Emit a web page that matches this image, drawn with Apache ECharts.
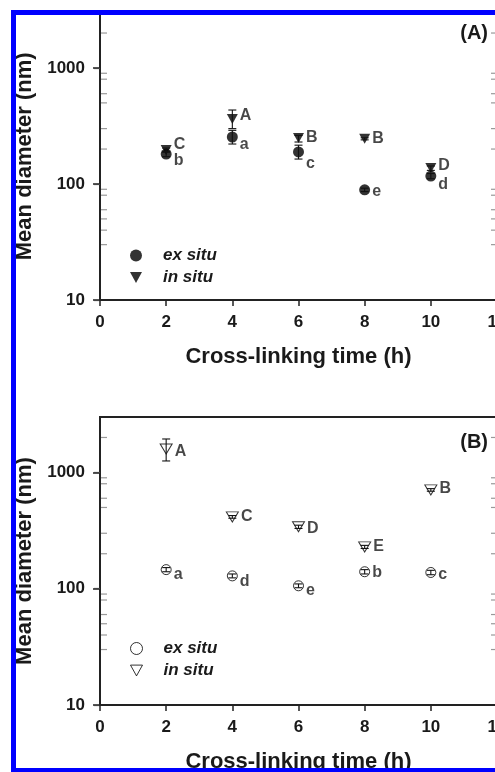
<!DOCTYPE html>
<html><head><meta charset="utf-8">
<script src="https://cdn.jsdelivr.net/npm/echarts@6/dist/echarts.min.js"></script>
<style>html,body{margin:0;padding:0;background:#fff}#c{width:495px;height:772px}</style>
</head><body><div id="c"></div>
<script>
// ---------- data ----------
const timeH = [2, 4, 6, 8, 10];
const xMin = 0, xMax = 12, xStep = 2;
const yMin = 10, yMax = 3000;
const yMajorTicks = [10, 100, 1000];
const yMinorTicks = [30, 40, 50, 60, 80, 90, 200, 300, 500, 600, 800, 900, 2000];
const seriesNames = ['ex situ', 'in situ'];
const panelTags = ['(A)', '(B)'];

// Panel A (filled symbols)
const exA      = [181, 254, 189, 89, 117];
const exALow   = [172, 221, 164, 86, 111];
const exAHigh  = [190, 290, 216, 92, 123];
const inA      = [196, 363, 249, 245, 137];
const inALow   = [188, 300, 230, 240, 131];
const inAHigh  = [204, 434, 262, 250, 143];
const exALetters = ['b', 'a', 'c', 'e', 'd'];
const inALetters = ['C', 'A', 'B', 'B', 'D'];

// Panel B (open symbols)
const exB      = [146, 129, 106, 140, 138];
const exBLow   = [140, 124, 102, 134, 132];
const exBHigh  = [152, 134, 110, 146, 144];
const inB      = [1591, 415, 341, 229, 708];
const inBLow   = [1256, 404, 330, 222, 690];
const inBHigh  = [1941, 426, 352, 236, 726];
const exBLetters = ['a', 'd', 'e', 'b', 'c'];
const inBLetters = ['A', 'C', 'D', 'E', 'B'];

// ---------- layout (label vertical offsets, px) ----------
const dyExA = [7, 8, 12, 2, 9], dyInA = [-5, -3, 0, 0, -3];
const dyExB = [5, 6, 5, 1, 2],  dyInB = [3, 0, 2, 0, -1];

const FONT = 'Liberation Sans, Arial, sans-serif';
const INK = '#1a1a1a';
const triPath = 'path://M0,0L10,0L5,9Z';

const chart = echarts.init(document.getElementById('c'), null, {renderer: 'canvas'});

const grids = [
  {left: 100, top: 12.6, width: 397, height: 287.4, outerBoundsMode: 'none'},
  {left: 100, top: 417, width: 397, height: 288, outerBoundsMode: 'none'}
];

function xAxes(gi) {
  return [{
    gridIndex: gi, type: 'value', min: xMin, max: xMax, interval: xStep,
    axisLine: {lineStyle: {color: '#222', width: 2}},
    axisTick: {length: 6, lineStyle: {color: '#222', width: 1.5}},
    axisLabel: {fontSize: 17, fontWeight: 'bold', color: INK, margin: 14, fontFamily: FONT, hideOverlap: false},
    splitLine: {show: false},
    name: 'Cross-linking time (h)', nameLocation: 'middle', nameGap: 46,
    nameTextStyle: {fontSize: 22, fontWeight: 'bold', color: INK, fontFamily: FONT}
  }, {
    gridIndex: gi, type: 'value', position: 'top', min: xMin, max: xMax, interval: xStep,
    axisLine: {lineStyle: {color: '#222', width: 2}},
    axisTick: {show: false}, axisLabel: {show: false}, splitLine: {show: false}
  }];
}
function yAxes(gi) {
  return [{
    gridIndex: gi, type: 'log', logBase: 10, min: yMin, max: yMax, position: 'left',
    axisLine: {show: true, lineStyle: {color: '#222', width: 2}},
    axisTick: {show: true, customValues: yMajorTicks, length: 7, lineStyle: {color: '#222', width: 1.5}},
    axisLabel: {customValues: yMajorTicks, formatter: v => String(Math.round(v)),
      fontSize: 17, fontWeight: 'bold', color: INK, margin: 15, fontFamily: FONT},
    splitLine: {show: false}, minorTick: {show: false},
    name: 'Mean diameter (nm)', nameLocation: 'middle', nameGap: 64,
    nameTextStyle: {fontSize: 22, fontWeight: 'bold', color: INK, fontFamily: FONT}
  }, {
    gridIndex: gi, type: 'log', logBase: 10, min: yMin, max: yMax, position: 'right',
    axisLine: {show: true, lineStyle: {color: '#222', width: 2}},
    axisTick: {show: true, inside: true, customValues: yMajorTicks, length: 6, lineStyle: {color: '#444', width: 1.2}},
    axisLabel: {show: false}, splitLine: {show: false}
  }];
}

function pointSeries(name, gi, vals, letters, dys, symbol, size, itemStyle) {
  return {
    type: 'scatter', name: name, xAxisIndex: gi * 2, yAxisIndex: gi * 2,
    symbol: symbol, symbolSize: size, itemStyle: itemStyle, z: 3,
    data: timeH.map((t, i) => ({value: [t, vals[i]], label: {offset: [0, dys[i]]}})),
    label: {show: true, position: 'right', distance: 2, formatter: p => letters[p.dataIndex],
      fontSize: 16, fontWeight: 'bold', color: INK, fontFamily: FONT},
    emphasis: {disabled: true}
  };
}
function errSeries(gi, lo, hi) {
  return {
    type: 'custom', xAxisIndex: gi * 2, yAxisIndex: gi * 2, z: 4, silent: true,
    data: timeH.map((t, i) => [t, lo[i], hi[i]]),
    encode: {x: 0, y: [1, 2]},
    renderItem: (params, api) => {
      const a = api.coord([api.value(0), api.value(1)]);
      const b = api.coord([api.value(0), api.value(2)]);
      const w = 4, st = {stroke: '#111', lineWidth: 1.1};
      return {type: 'group', children: [
        {type: 'line', shape: {x1: a[0], y1: a[1], x2: b[0], y2: b[1]}, style: st},
        {type: 'line', shape: {x1: a[0] - w, y1: a[1], x2: a[0] + w, y2: a[1]}, style: st},
        {type: 'line', shape: {x1: b[0] - w, y1: b[1], x2: b[0] + w, y2: b[1]}, style: st}
      ]};
    }
  };
}
function minorTickSeries(gi) {
  return {
    type: 'custom', xAxisIndex: gi * 2, yAxisIndex: gi * 2, z: 2, silent: true, clip: false,
    data: yMinorTicks.map(v => [xMin, v]),
    encode: {x: 0, y: 1},
    renderItem: (params, api) => {
      const l = api.coord([xMin, api.value(1)]);
      const r = api.coord([xMax, api.value(1)]);
      const st = {stroke: '#999', lineWidth: 1.2};
      return {type: 'group', children: [
        {type: 'line', shape: {x1: l[0] + 1, y1: l[1], x2: l[0] + 7, y2: l[1]}, style: st},
        {type: 'line', shape: {x1: r[0] - 6, y1: r[1], x2: r[0], y2: r[1]}, style: st}
      ]};
    }
  };
}

const filled = {color: '#000'};
const open = {color: '#fff', borderColor: '#000', borderWidth: 1};

function legendFor(gi, top, style) {
  return {
    left: 125, top: top, orient: 'vertical', itemWidth: 12, itemHeight: 12, itemGap: 5,
    selectedMode: false,
    data: [
      {name: seriesNames[0], icon: 'circle', itemStyle: style},
      {name: seriesNames[1], icon: triPath, itemStyle: style}
    ],
    textStyle: {fontSize: 17, fontWeight: 'bold', fontStyle: 'italic', color: INK, fontFamily: FONT,
      padding: [0, 0, 0, 16]}
  };
}

const option = {
  animation: false,
  backgroundColor: '#fff',
  grid: grids,
  xAxis: [...xAxes(0), ...xAxes(1)],
  yAxis: [...yAxes(0), ...yAxes(1)],
  legend: [legendFor(0, 242, filled), legendFor(1, 635, open)],
  series: [
    minorTickSeries(0), minorTickSeries(1),
    pointSeries(seriesNames[1], 0, inA, inALetters, dyInA, triPath, [11, 10], filled),
    pointSeries(seriesNames[0], 0, exA, exALetters, dyExA, 'circle', 11, filled),
    errSeries(0, inALow, inAHigh), errSeries(0, exALow, exAHigh),
    pointSeries(seriesNames[1], 1, inB, inBLetters, dyInB, triPath, [12, 10], open),
    pointSeries(seriesNames[0], 1, exB, exBLetters, dyExB, 'circle', 10, open),
    errSeries(1, inBLow, inBHigh), errSeries(1, exBLow, exBHigh)
  ],
  graphic: [
    {type: 'text', x: 488, y: 33, z: 50, silent: true,
      style: {text: panelTags[0], fontSize: 20, fontWeight: 'bold', fontFamily: FONT, fill: INK, align: 'right', verticalAlign: 'middle'}},
    {type: 'text', x: 488, y: 442, z: 50, silent: true,
      style: {text: panelTags[1], fontSize: 20, fontWeight: 'bold', fontFamily: FONT, fill: INK, align: 'right', verticalAlign: 'middle'}},
    {type: 'rect', z: 100, silent: true, shape: {x: 13.5, y: 12.5, width: 520, height: 758},
      style: {fill: 'none', stroke: '#0000ff', lineWidth: 5}}
  ]
};
chart.setOption(option);
</script></body></html>
